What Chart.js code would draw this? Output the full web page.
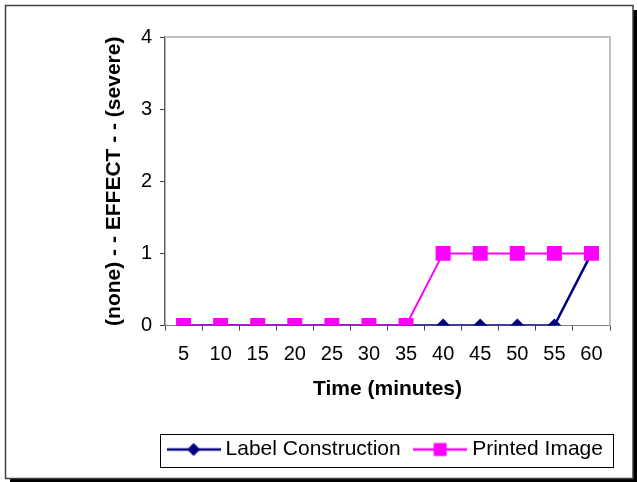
<!DOCTYPE html>
<html>
<head>
<meta charset="utf-8">
<title>Effect over time</title>
<script src="https://cdn.jsdelivr.net/npm/chart.js@4/dist/chart.umd.min.js"></script>
<style>
  html, body { margin: 0; padding: 0; background: #fff; }
  #wrap { width: 637px; height: 482px; }
</style>
</head>
<body>
<div id="wrap"><canvas id="effectChart" width="637" height="482"></canvas></div>
<script>
// minutes after start
const times = ['5', '10', '15', '20', '25', '30', '35', '40', '45', '50', '55', '60'];
// effect score, 0 = none ... 4 = severe
const labelConstruction = [0, 0, 0, 0, 0, 0, 0, 0, 0, 0, 0, 1];
const printedImage = [0, 0, 0, 0, 0, 0, 0, 1, 1, 1, 1, 1];
const effectTicks = [0, 1, 2, 3, 4];

const NAVY = '#000080';
const MAGENTA = '#ff00ff';

Chart.defaults.font.family = '"Liberation Sans", Arial, sans-serif';
Chart.defaults.color = '#000';

// little line + marker sample used in the legend
function legendSample(color, shape) {
    const c = document.createElement('canvas');
    c.width = 54;
    c.height = 16;
    const g = c.getContext('2d');
    g.strokeStyle = color;
    g.fillStyle = color;
    g.lineWidth = 2.5;
    g.beginPath();
    g.moveTo(0, 8);
    g.lineTo(54, 8);
    g.stroke();
    g.beginPath();
    if (shape === 'diamond') {
        g.moveTo(27 - 6.5, 8);
        g.lineTo(27, 8 - 6.5);
        g.lineTo(27 + 6.5, 8);
        g.lineTo(27, 8 + 6.5);
        g.closePath();
    } else {
        g.rect(27 - 6.5, 8 - 6.5, 13, 13);
    }
    g.fill();
    return c;
}

const samples = [legendSample(NAVY, 'diamond'), legendSample(MAGENTA, 'square')];

// outer frame, plot frame and legend box
const frames = {
    id: 'frames',
    afterLayout(chart) {
        // centre the legend under the plot area rather than the whole canvas
        const lg = chart.legend;
        const a = chart.chartArea;
        const shift = (a.left + a.right) / 2 - (lg.left + lg.right) / 2;
        lg.left += shift;
        lg.right += shift;
    },
    beforeDraw(chart) {
        const ctx = chart.ctx;
        ctx.save();
        ctx.fillStyle = '#fff';
        ctx.fillRect(0, 0, chart.width, chart.height);
        ctx.fillStyle = '#000';
        ctx.fillRect(10, 10, chart.width - 10, chart.height - 10);
        ctx.fillStyle = '#fff';
        ctx.fillRect(5, 5, 628, 473);
        ctx.strokeStyle = '#404040';
        ctx.lineWidth = 1.5;
        ctx.strokeRect(5.5, 5.5, 627.5, 473);
        ctx.restore();
    },
    beforeDatasetsDraw(chart) {
        const {ctx, chartArea: a} = chart;
        ctx.save();
        ctx.strokeStyle = '#c0c0c0';
        ctx.lineWidth = 2;
        ctx.beginPath();
        ctx.moveTo(a.left, a.top);
        ctx.lineTo(a.right, a.top);
        ctx.lineTo(a.right, a.bottom);
        ctx.stroke();
        ctx.restore();
    },
    afterDraw(chart) {
        const lg = chart.legend;
        if (!lg || !lg.legendHitBoxes.length) return;
        const boxes = lg.legendHitBoxes;
        const first = boxes[0];
        const last = boxes[boxes.length - 1];
        const mid = first.top + first.height / 2;
        const ctx = chart.ctx;
        ctx.save();
        ctx.strokeStyle = '#000';
        ctx.lineWidth = 1;
        ctx.strokeRect(Math.round(first.left - 12) + 0.5, Math.round(mid - 16) + 0.5,
            Math.round(last.left + last.width + 10 - (first.left - 12)), 33);
        ctx.restore();
    }
};

new Chart(document.getElementById('effectChart'), {
    type: 'line',
    data: {
        labels: times,
        datasets: [
            {
                label: 'Label Construction',
                data: labelConstruction,
                borderColor: NAVY,
                backgroundColor: NAVY,
                borderWidth: 2.5,
                pointStyle: 'rectRot',
                pointRadius: 7,
                pointHoverRadius: 7,
                pointBorderWidth: 0,
                tension: 0,
                order: 1
            },
            {
                label: 'Printed Image',
                data: printedImage,
                borderColor: MAGENTA,
                backgroundColor: MAGENTA,
                borderWidth: 2,
                pointStyle: 'rect',
                pointRadius: 10.6,
                pointHoverRadius: 10.6,
                pointBorderWidth: 0,
                tension: 0,
                order: 0
            }
        ]
    },
    options: {
        responsive: false,
        animation: false,
        events: [],
        layout: {
            padding: { left: 98, right: 27, top: 37, bottom: 12 }
        },
        scales: {
            x: {
                offset: true,
                grid: {
                    offset: true,
                    drawOnChartArea: false,
                    drawTicks: true,
                    tickLength: 5,
                    color: '#404040'
                },
                border: { display: true, color: '#808080', width: 1 },
                ticks: { font: { size: 20 }, padding: 12, color: '#000' },
                title: {
                    display: true,
                    text: 'Time (minutes)',
                    font: { size: 21, weight: 'bold' },
                    color: '#000',
                    padding: { top: 4, bottom: 19 }
                },
                afterFit(scale) { scale.height = 95.5; }
            },
            y: {
                min: 0,
                max: 4,
                afterBuildTicks(scale) {
                    scale.ticks = effectTicks.map(v => ({ value: v }));
                },
                grid: {
                    drawOnChartArea: false,
                    drawTicks: true,
                    tickLength: 5,
                    color: '#404040'
                },
                border: { display: true, color: '#606060', width: 1.5 },
                ticks: { font: { size: 20 }, padding: 8, color: '#000' },
                title: {
                    display: true,
                    text: '(none) - - EFFECT - - (severe)',
                    font: { size: 21, weight: 'bold' },
                    color: '#000',
                    padding: { top: 4, bottom: 4 }
                },
                afterFit(scale) { scale.width = 67; }
            }
        },
        plugins: {
            tooltip: { enabled: false },
            legend: {
                position: 'bottom',
                labels: {
                    usePointStyle: true,
                    pointStyleWidth: 43,
                    padding: 18,
                    font: { size: 21 },
                    color: '#000',
                    generateLabels(chart) {
                        return chart.data.datasets.map((ds, i) => ({
                            text: ds.label,
                            pointStyle: samples[i],
                            fillStyle: ds.borderColor,
                            strokeStyle: ds.borderColor,
                            lineWidth: 0,
                            hidden: false,
                            datasetIndex: i
                        }));
                    }
                }
            }
        }
    },
    plugins: [frames]
});
</script>
</body>
</html>
